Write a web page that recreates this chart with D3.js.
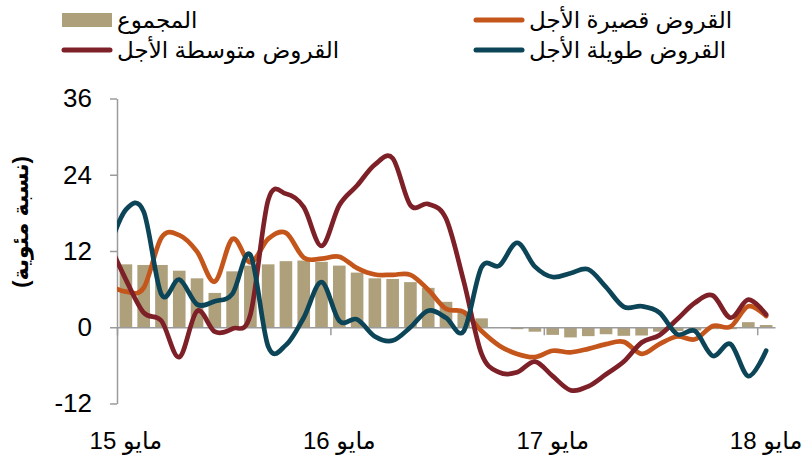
<!DOCTYPE html>
<html>
<head>
<meta charset="utf-8">
<script src="https://cdn.jsdelivr.net/npm/d3@7"></script>
<style>
  body { margin: 0; background: #fff; }
  svg { display: block; font-family: "Liberation Sans", Arial, "DejaVu Sans", sans-serif; }
</style>
</head>
<body>
<svg id="chart" width="807" height="458"></svg>
<script>
// Month index 0 = May 2015 ... 36 = May 2018
const yearTicks = [0, 12, 24, 36];
const yearLabels = ["مايو 15", "مايو 16", "مايو 17", "مايو 18"];
const yTicks = [-12, 0, 12, 24, 36];

// Bars: total (المجموع), one value per month
const total = [9.9, 9.8, 9.8, 8.9, 7.7, 5.4, 8.8, 9.7, 9.9, 10.4, 10.5, 10.3,
               9.7, 8.6, 7.7, 7.6, 7.1, 6.2, 4.0, 2.3, 1.4, 0.0, -0.3, -0.7,
               -1.2, -1.6, -1.4, -1.1, -1.35, -1.3, -0.7, -0.6, -0.5, -0.3, -0.3, 0.8,
               0.35];

// Lines start one month earlier (Apr 2015); that point sits left of the axis and is clipped
const shortTerm = [6.7,
               5.6, 6.2, 14.1, 14.5, 11.9, 7.2, 13.9, 10.2, 13.9, 14.85, 10.95, 10.8,
               11.1, 9.3, 8.3, 8.25, 8.25, 5.9, 2.9, 2.4, -0.6, -2.9, -4.2, -4.7,
               -3.7, -3.95, -3.4, -2.65, -2.3, -4.2, -2.65, -1.45, -1.9, 0.2, 0.1, 3.3,
               1.75];
const mediumTerm = [13.5,
               7.5, 2.3, 1.0, -4.7, 2.55, -0.7, -0.2, 2.0, 20.0, 21.0, 18.9, 12.8,
               19.2, 22.3, 25.6, 26.6, 19.2, 19.4, 17.1, 7.2, -4.2, -7.1, -7.1, -5.4,
               -7.7, -9.9, -9.3, -7.4, -5.4, -2.4, -1.25, 1.25, 3.85, 5.0, 1.5, 4.35,
               2.0];
const longTerm = [12,
               18.5, 18.2, 5.15, 7.5, 3.6, 4.1, 5.3, 11.4, -3.0, -2.8, 1.5, 7.1,
               1.0, 1.25, -1.45, -2.1, 0.0, 2.6, 1.5, -0.6, 9.45, 9.7, 13.3, 9.55,
               7.9, 8.5, 9.1, 6.3, 3.2, 3.3, 2.3, -1.1, -0.6, -4.5, -2.65, -7.7,
               -3.7];

const seriesNames = ["المجموع", "القروض قصيرة الأجل", "القروض متوسطة الأجل", "القروض طويلة الأجل"];
const seriesColors = ["#afa07c", "#c5561b", "#7d2027", "#0c4557"];
const yTitle = "(نسبة مئوية)";

const svg = d3.select("#chart");

// --- Scales ---
const x = d3.scaleLinear().domain([0, total.length]).range([117, 775]);
const y = d3.scaleLinear().domain([-12, 36]).range([403.5, 98.5]);
const step = x(1) - x(0);
const barW = step * 0.71;

// --- Bars ---
svg.append("g")
    .attr("fill", seriesColors[0])
    .selectAll("rect")
    .data(total)
    .join("rect")
    .attr("x", (d, i) => x(i + 0.5) - barW / 2)
    .attr("width", barW)
    .attr("y", d => y(Math.max(0, d)))
    .attr("height", d => Math.abs(y(d) - y(0)));

// --- Axes ---
const yAxis = svg.append("g")
    .attr("transform", `translate(${x(0)},0)`)
    .call(d3.axisLeft(y).tickValues(yTicks).tickFormat(d => String(d))
        .tickSize(7).tickSizeOuter(0).tickPadding(18));
yAxis.select(".domain").attr("stroke", "#9b9b9b").attr("stroke-width", 1.5);
yAxis.selectAll(".tick line").attr("stroke", "#9b9b9b").attr("stroke-width", 1.5);
yAxis.selectAll(".tick text")
    .attr("font-size", 26)
    .attr("font-family", "Liberation Sans, Arial, sans-serif")
    .attr("fill", "#000");

const xAxis = svg.append("g")
    .attr("transform", `translate(0,${y(0)})`)
    .call(d3.axisBottom(x).tickValues(yearTicks).tickSize(8).tickSizeOuter(0).tickFormat(""));
xAxis.select(".domain").attr("stroke", "#9b9b9b").attr("stroke-width", 1.5);
xAxis.selectAll(".tick line").attr("stroke", "#9b9b9b").attr("stroke-width", 1.5);

// Year labels, centred on the May category
svg.append("g")
    .selectAll("text")
    .data(yearTicks)
    .join("text")
    .attr("x", d => x(d + 0.5))
    .attr("y", 449)
    .attr("direction", "rtl")
    .attr("text-anchor", "middle")
    .attr("font-size", 24)
    .text((d, i) => yearLabels[i]);

// Y axis title
svg.append("text")
    .attr("transform", "translate(28,222) rotate(-90)")
    .attr("text-anchor", "middle")
    .attr("direction", "rtl")
    .attr("font-size", 22)
    .attr("font-weight", "bold")
    .text(yTitle);

// --- Lines ---
svg.append("clipPath")
    .attr("id", "plotClip")
    .append("rect")
    .attr("x", x(0))
    .attr("y", 0)
    .attr("width", x(total.length) - x(0))
    .attr("height", 458);

const line = d3.line()
    .x((d, i) => x(i - 0.5))   // index 0 of the line arrays is Apr 2015
    .y(d => y(d))
    .curve(d3.curveCardinal.tension(0));

svg.append("g")
    .attr("clip-path", "url(#plotClip)")
    .attr("fill", "none")
    .attr("stroke-width", 4.7)
    .attr("stroke-linejoin", "round")
    .attr("stroke-linecap", "round")
    .selectAll("path")
    .data([shortTerm, mediumTerm, longTerm])
    .join("path")
    .attr("stroke", (d, i) => seriesColors[i + 1])
    .attr("d", line);

// --- Legend ---
const legendX = [62, 474];
const legendY = [20, 50];
const legendPos = [[0, 0], [1, 0], [0, 1], [1, 1]];   // [column, row] for each series

const legend = svg.append("g")
    .selectAll("g")
    .data(seriesNames)
    .join("g")
    .attr("transform", (d, i) => `translate(${legendX[legendPos[i][0]]},${legendY[legendPos[i][1]]})`);

legend.each(function(d, i) {
    const g = d3.select(this);
    if (i === 0) {
        g.append("rect").attr("x", 0).attr("y", -7).attr("width", 50).attr("height", 14)
            .attr("fill", seriesColors[i]);
    } else {
        g.append("line").attr("x1", 2).attr("x2", 48).attr("y1", 0).attr("y2", 0)
            .attr("stroke", seriesColors[i]).attr("stroke-width", 5).attr("stroke-linecap", "round");
    }
    g.append("text")
        .attr("x", 55)
        .attr("y", 8)
        .attr("font-size", 23)
        .text(d);
});
</script>
</body>
</html>
